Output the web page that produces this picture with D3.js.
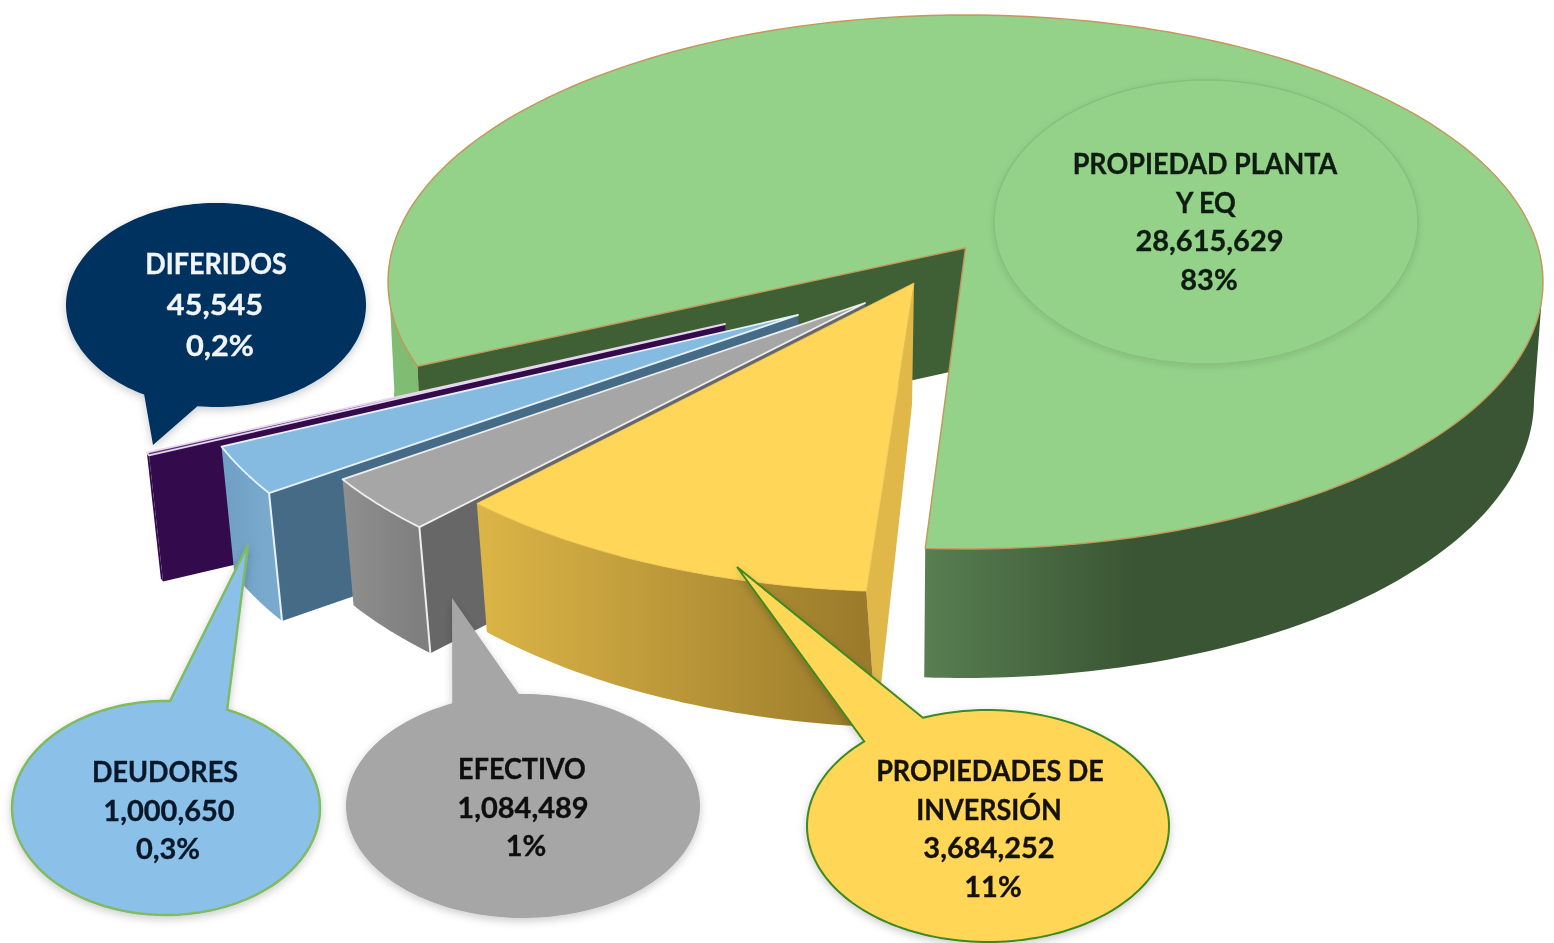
<!DOCTYPE html>
<html>
<head>
<meta charset="utf-8">
<script src="https://cdn.jsdelivr.net/npm/d3@7"></script>
<style>
html,body{margin:0;padding:0;background:#fff;}
svg{display:block;filter:blur(0.5px);}
text{font-family:"Lato","Open Sans",sans-serif;font-weight:700;text-anchor:middle;}
</style>
</head>
<body>
<div id="chart"></div>
<script>
// ---------- data ----------
const categories = ["PROPIEDAD PLANTA|Y EQ", "PROPIEDADES DE|INVERSIÓN", "EFECTIVO", "DEUDORES", "DIFERIDOS"];
const values = [28615629, 3684252, 1084489, 1000650, 45545];
const percentLabels = ["83%", "11%", "1%", "0,3%", "0,2%"];

// ---------- layout (drawn geometry, not data) ----------
const W = 1554, H = 943;
const RX = 577.5, RY = 267;
const explode = [
  {c:[965.5,282], s:1,     b:[964,400], brx:570, bry:278, apexB:[968,368]},
  {c:[914,317],   s:1.03,  b:[924,430], brx:594.8, bry:298, apexB:[912,405]},
  {c:[865,337],   s:1.05,  b:[876,463], brx:606.4, bry:280.4, apexB:[872,428]},
  {c:[798,349],   s:1.063, b:[811,477], brx:613.9, bry:283.8, apexB:[806,440]},
  {c:[725,358],   s:1.062, b:[739,484], brx:613.3, bry:283.6, apexB:[733,448]}
];
const apexLift = 34;
// perspective: pie angle boundaries -> screen parametric angle (deg, clockwise from top)
const screenKnots = [251.6, 544.6, 587.3, 599.5, 609.9, 610.5];
const greenCutTrim = 0.6;

const topColors   = ["#94d189","#ffd657","#a6a6a6","#85bbe0","#5a2f78"];
const radialColors= ["#3f5f35","#e0b849","#676767","#466b86","#330b4c"];
const strokeColors= ["#c4975a","#e8c65c","#eeeeee","#e6f1f8","#e6d6ee"];
const wallStops   = [["#587e52","#3a5533"],["#dcb547","#9b7b2b"],["#8f8f8f","#7f7f7f"],["#6f9fc4","#79a9cd"],["#330b4c","#330b4c"]];
const wallRanges  = [[925,1135],[476,865],[344,418],[222,268],[147,150]];

const nameScale = 0.93;
const callouts = [
  {i:0, cx:1206, cy:222, rx:212, ry:142, fill:"#94d189", stroke:"#86c17a", sw:1.5, color:"#0e1c12", fs:29, lh:38.5, tx:1205, ty:174, numScale:1,
   filter:"faint", dx:[0,1,4.5,4]},
  {i:1, cx:988, cy:826, rx:181, ry:116, fill:"#ffd657", stroke:"#3c8a22", sw:2, color:"#141208", fs:29, lh:38.5, tx:990, ty:781, numScale:1,
   tip:[737,567], a:[923,718], b:[865,742], filter:"soft", dx:[0,-1,-1,3]},
  {i:2, cx:523, cy:806, rx:177, ry:112, fill:"#a6a6a6", stroke:"none", sw:0, color:"#0e0e0e", fs:29, lh:38.5, tx:522, ty:779, numScale:1,
   tip:[452,598], a:[519,695], b:[452,703], filter:"soft", dx:[0,1,4]},
  {i:3, cx:166, cy:808, rx:154, ry:107, fill:"#8bc1e8", stroke:"#80bb62", sw:2.5, color:"#08182a", fs:29, lh:38.5, tx:167, ty:782, numScale:1,
   tip:[248,545], a:[227,710], b:[170,702], filter:"soft", dx:[-2,2,1]},
  {i:4, cx:216, cy:305, rx:150, ry:102, fill:"#00325f", stroke:"none", sw:0, color:"#f2f5f8", fs:29, lh:41, tx:216, ty:274, numScale:1.06,
   tip:[153,445], a:[198,403], b:[147,391], filter:"soft", dx:[0,-1,4]}
];

// ---------- scales / pie ----------
const pie = d3.pie().value(d => d).sort(null).startAngle(0).endAngle(2*Math.PI);
const arcs = pie(values);
const boundaries = arcs.map(d => d.startAngle * 180/Math.PI).concat([arcs[arcs.length-1].endAngle * 180/Math.PI]);
const screenAngle = d3.scaleLinear().domain(boundaries).range(screenKnots);

const rad = d => d * Math.PI/180;
const topPt = (i,t) => { const e = explode[i];
  return [e.c[0] + RX*e.s*Math.sin(rad(t)), e.c[1] - RY*e.s*Math.cos(rad(t))]; };
const botPt = (i,t) => { const e = explode[i];
  return [e.b[0] + e.brx*Math.sin(rad(t)), e.b[1] - e.bry*Math.cos(rad(t))]; };
const samples = (a,b,n) => d3.range(n+1).map(k => a + (b-a)*k/n);
const line = d3.line().curve(d3.curveLinear);

const svg = d3.select("#chart").append("svg").attr("width",W).attr("height",H).attr("viewBox",`0 0 ${W} ${H}`);
const defs = svg.append("defs");

wallStops.forEach((st,i) => {
  const g = defs.append("linearGradient").attr("id","wall"+i).attr("gradientUnits","userSpaceOnUse")
    .attr("x1",wallRanges[i][0]).attr("x2",wallRanges[i][1]).attr("y1",0).attr("y2",0);
  g.append("stop").attr("offset",0).attr("stop-color",st[0]);
  g.append("stop").attr("offset",1).attr("stop-color",st[1]);
});
[["soft",0.2,3,4],["faint",0.1,2,3]].forEach(([id,op,dy,sd]) => {
  const f = defs.append("filter").attr("id",id).attr("x","-10%").attr("y","-10%").attr("width","120%").attr("height","125%");
  f.append("feDropShadow").attr("dx",0).attr("dy",dy).attr("stdDeviation",sd).attr("flood-color","#000").attr("flood-opacity",op);
});

const plot = svg.append("g").attr("class","pie");

function drawSlice(d,i){
  const e = explode[i];
  const a = screenAngle(boundaries[i]);
  const b = screenAngle(boundaries[i+1]) - (i===0 ? greenCutTrim : 0);
  const apexT = [e.c[0], e.c[1]-apexLift];
  const g = plot.append("g").attr("class","slice").datum(d);
  const stroke = strokeColors[i];
  if(i===0){
    const lt = samples(a,272,30);
    g.append("path").attr("fill","#80bc72")
      .attr("d", line(lt.map(t=>topPt(i,t)).concat(lt.slice().reverse().map(t=>botPt(i,t))))+"Z");
    const fr = samples(450,b,90);
    g.append("path").attr("fill","url(#wall0)")
      .attr("d", line(fr.map(t=>topPt(i,t)).concat(fr.slice().reverse().map(t=>botPt(i,t))))+"Z");
    g.append("path").attr("fill",radialColors[i])
      .attr("d", line([apexT, topPt(i,a), botPt(i,a), e.apexB])+"Z");
    const top = [apexT].concat(samples(a,b,240).map(t=>topPt(i,t)));
    g.append("path").attr("fill",topColors[i]).attr("stroke",stroke).attr("stroke-width",1.4)
      .attr("stroke-linejoin","round").attr("d", line(top)+"Z");
    return;
  }
  g.append("path").attr("fill",radialColors[i])
    .attr("d", line([apexT, topPt(i,a), botPt(i,a), e.apexB])+"Z");
  const ts = samples(a,b,40);
  g.append("path").attr("fill",`url(#wall${i})`)
    .attr("d", line(ts.map(t=>topPt(i,t)).concat(ts.slice().reverse().map(t=>botPt(i,t))))+"Z");
  if(i===2||i===3){
    g.append("path").attr("stroke",stroke).attr("stroke-width",2).attr("fill","none")
      .attr("d", line([topPt(i,a), botPt(i,a)]));
  }
  const top = [apexT].concat(ts.map(t=>topPt(i,t)));
  g.append("path").attr("fill",topColors[i]).attr("stroke",stroke).attr("stroke-width",i===1?0.8:1.8)
    .attr("stroke-linejoin","round").attr("d", line(top)+"Z");
}
// back to front
drawSlice(arcs[0],0);
[4,3,2,1].forEach(i => drawSlice(arcs[i],i));

// ---------- callouts ----------
const labels = svg.append("g").attr("class","callouts");
const norm = x => ((x%(2*Math.PI))+2*Math.PI)%(2*Math.PI);
callouts.forEach(c => {
  let pts;
  if(c.tip){
    const angOf = p => Math.atan2((p[1]-c.cy)/c.ry,(p[0]-c.cx)/c.rx);
    const angA = angOf(c.a), angB = angOf(c.b), tipAng = angOf(c.tip);
    const inShort = norm(tipAng-angA) < norm(angB-angA);
    const end = inShort ? angA - norm(angA-angB) : angA + norm(angB-angA);
    pts = samples(angA,end,180).map(t=>[c.cx+c.rx*Math.cos(t), c.cy+c.ry*Math.sin(t)]);
    pts.push(c.tip);
  } else {
    pts = samples(0,2*Math.PI,180).map(t=>[c.cx+c.rx*Math.cos(t), c.cy+c.ry*Math.sin(t)]);
  }
  labels.append("path").attr("d",line(pts)+"Z").attr("fill",c.fill)
    .attr("stroke",c.stroke).attr("stroke-width",c.sw).attr("stroke-linejoin","miter")
    .attr("filter",`url(#${c.filter})`);
  const names = categories[c.i].split("|");
  const txt = names.concat([d3.format(",")(values[c.i]), percentLabels[c.i]]);
  labels.append("g").selectAll("text").data(txt).join("text")
    .attr("fill",c.color).attr("stroke",c.color).attr("stroke-width",0.35).attr("font-size",c.fs)
    .attr("transform",(d,k)=>`translate(${c.tx+c.dx[k]},${c.ty+k*c.lh}) scale(${k<names.length?nameScale:c.numScale},1)`)
    .text(d=>d);
});
</script>
</body>
</html>
